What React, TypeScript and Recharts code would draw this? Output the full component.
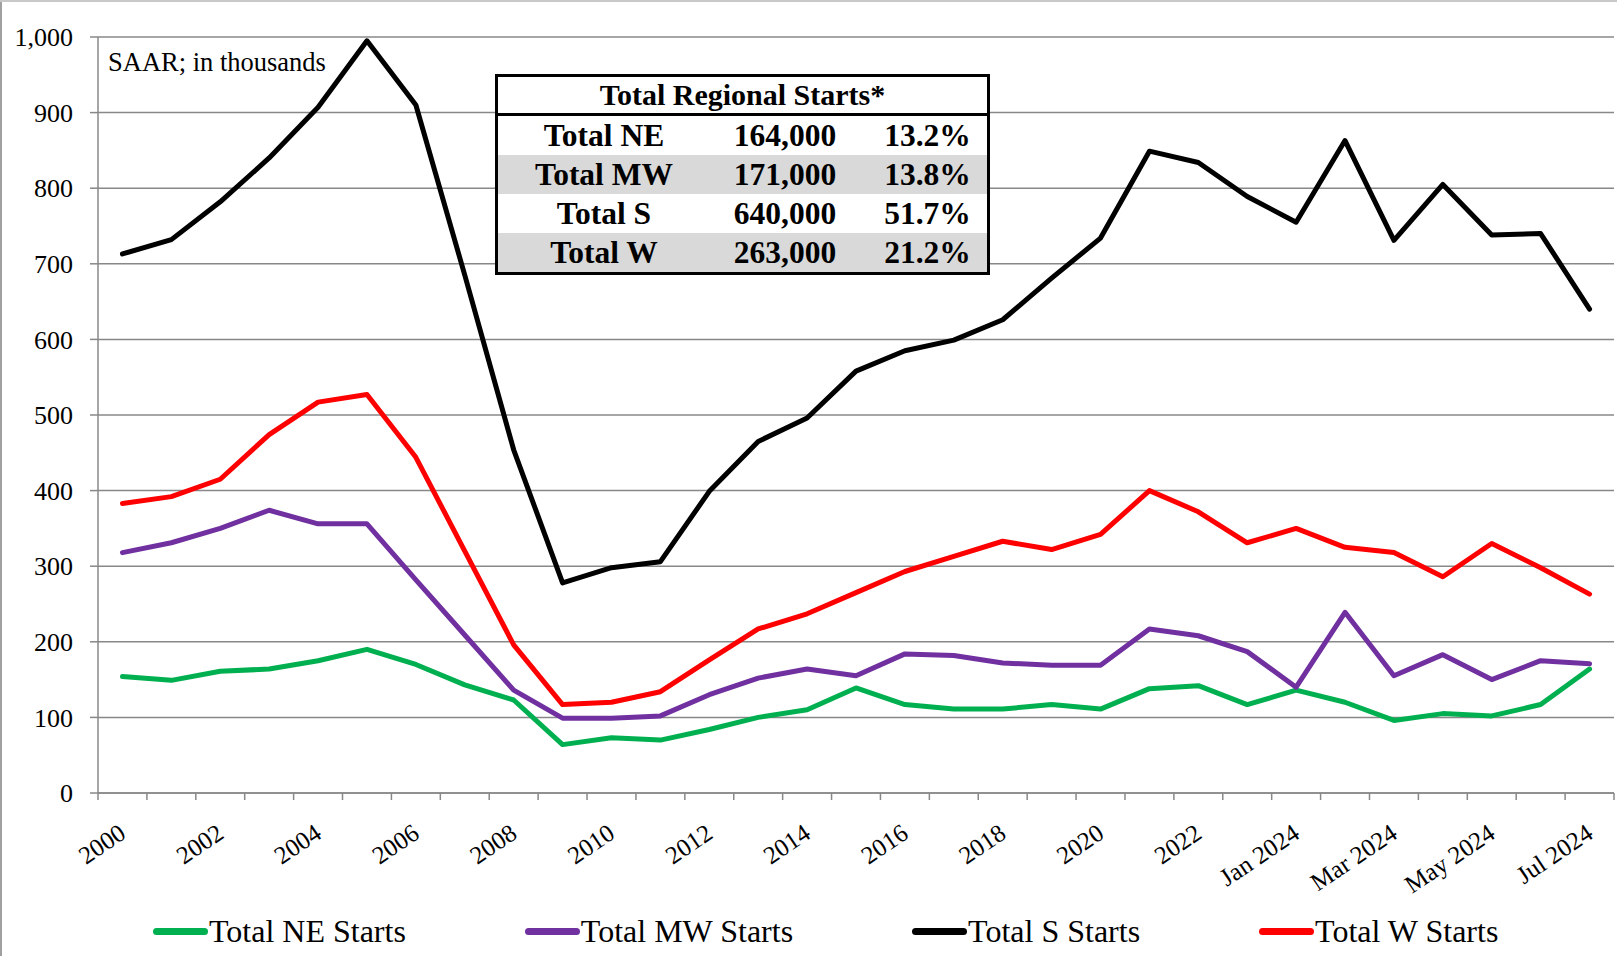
import React from 'react'
import { LineChart, Line, XAxis, YAxis, CartesianGrid, Legend } from 'recharts'

const categories = [
  '2000', '2001', '2002', '2003', '2004', '2005', '2006', '2007', '2008', '2009',
  '2010', '2011', '2012', '2013', '2014', '2015', '2016', '2017', '2018', '2019',
  '2020', '2021', '2022', '2023',
  'Jan 2024', 'Feb 2024', 'Mar 2024', 'Apr 2024', 'May 2024', 'Jun 2024', 'Jul 2024'
]

// SAAR, thousands
const neStarts = [
  154, 149, 161, 164, 175, 190, 170, 143, 123, 64,
  73, 70, 84, 100, 110, 139, 117, 111, 111, 117,
  111, 138, 142, 117,
  136, 120, 96, 105, 102, 117, 164
]
const mwStarts = [
  318, 331, 350, 374, 356, 356, 282, 209, 136, 99,
  99, 102, 130, 152, 164, 155, 184, 182, 172, 169,
  169, 217, 208, 187,
  140, 239, 155, 183, 150, 175, 171
]
const sStarts = [
  713, 732, 782, 840, 907, 995, 910, 685, 454, 278,
  298, 306, 399, 465, 496, 558, 585, 599, 626, 681,
  734, 849, 834, 789,
  755, 863, 731, 805, 738, 740, 640
]
const wStarts = [
  383, 392, 415, 474, 517, 527, 444, 320, 196, 117,
  120, 134, 176, 217, 237, 265, 293, 313, 333, 322,
  342, 400, 372, 331,
  350, 325, 318, 286, 330, 298, 263
]

const yTicks = [0, 100, 200, 300, 400, 500, 600, 700, 800, 900, 1000]

const tableRows = [
  { region: 'Total NE', starts: '164,000', share: '13.2%' },
  { region: 'Total MW', starts: '171,000', share: '13.8%' },
  { region: 'Total S', starts: '640,000', share: '51.7%' },
  { region: 'Total W', starts: '263,000', share: '21.2%' }
]

const SERIES = [
  { key: 'ne', name: 'Total NE Starts', color: '#00b050' },
  { key: 'mw', name: 'Total MW Starts', color: '#7030a0' },
  { key: 's', name: 'Total S Starts', color: '#000000' },
  { key: 'w', name: 'Total W Starts', color: '#ff0000' }
]

const data = categories.map((period, i) => ({
  period,
  ne: neStarts[i],
  mw: mwStarts[i],
  s: sStarts[i],
  w: wStarts[i]
}))

const SERIF = '"Liberation Serif", "Times New Roman", serif'
const AXIS_GRAY = '#888888'
const WIDTH = 1617
const HEIGHT = 956
const Y_AXIS_W = 98
const RIGHT_M = 3
const BAND = (WIDTH - Y_AXIS_W - RIGHT_M) / categories.length

const XTick = (props: any) => {
  const { x, y, index, payload } = props
  const half = BAND / 2
  const lx = x + 5
  const ly = y + 44
  return (
    <g>
      <line x1={x - half} x2={x - half} y1={y} y2={y + 7} stroke={AXIS_GRAY} strokeWidth={1.5} />
      {index === categories.length - 1 && (
        <line x1={x + half} x2={x + half} y1={y} y2={y + 7} stroke={AXIS_GRAY} strokeWidth={1.5} />
      )}
      {index % 2 === 0 && (
        <text
          x={lx}
          y={ly}
          textAnchor="end"
          transform={`rotate(-34 ${lx} ${ly})`}
          fontSize={25}
          fontFamily={SERIF}
          fill="#000"
        >
          {payload.value}
        </text>
      )}
    </g>
  )
}

const LegendContent = () => (
  <div
    style={{
      height: 50,
      display: 'flex',
      alignItems: 'center',
      paddingLeft: 153,
      gap: 119,
      fontFamily: SERIF,
      fontSize: 32,
      color: '#000'
    }}
  >
    {SERIES.map((s) => (
      <div key={s.key} style={{ display: 'flex', alignItems: 'center', whiteSpace: 'nowrap' }}>
        <span
          style={{
            display: 'inline-block',
            width: 55,
            height: 7,
            borderRadius: 4,
            background: s.color,
            marginRight: 1
          }}
        />
        <span>{s.name}</span>
      </div>
    ))}
  </div>
)

const cellBase: React.CSSProperties = {
  textAlign: 'center',
  padding: 0,
  height: 39,
  lineHeight: '39px'
}

const App = () => {
  return (
    <div
      style={{
        position: 'absolute',
        left: 0,
        top: 0,
        width: WIDTH,
        height: HEIGHT,
        background: '#fff',
        overflow: 'hidden'
      }}
    >
      <div style={{ position: 'absolute', left: 0, top: 0, width: 2, height: HEIGHT, background: '#a0a0a0' }} />
      <div style={{ position: 'absolute', left: 0, top: 0, width: WIDTH, height: 2, background: '#c8c8c8' }} />
      <LineChart
        width={WIDTH}
        height={HEIGHT}
        data={data}
        margin={{ top: 37, right: RIGHT_M, left: 0, bottom: 0 }}
      >
        <CartesianGrid vertical={false} stroke={AXIS_GRAY} strokeWidth={1.5} />
        <XAxis
          dataKey="period"
          interval={0}
          tickSize={0}
          tickMargin={0}
          height={113}
          tickLine={false}
          axisLine={{ stroke: AXIS_GRAY, strokeWidth: 1.5 }}
          padding={{ left: BAND / 2, right: BAND / 2 }}
          tick={<XTick />}
        />
        <YAxis
          width={Y_AXIS_W}
          domain={[0, 1000]}
          ticks={yTicks}
          interval={0}
          tickSize={8}
          tickMargin={17}
          tickFormatter={(v: number) => v.toLocaleString('en-US')}
          axisLine={{ stroke: AXIS_GRAY, strokeWidth: 1.5 }}
          tickLine={{ stroke: AXIS_GRAY, strokeWidth: 1.5 }}
          tick={{ fill: '#000', fontSize: 26, fontFamily: SERIF }}
        />
        <Legend verticalAlign="bottom" content={<LegendContent />} />
        {SERIES.map((s) => (
          <Line
            key={s.key}
            type="linear"
            dataKey={s.key}
            name={s.name}
            stroke={s.color}
            strokeWidth={5}
            strokeLinejoin="round"
            strokeLinecap="round"
            dot={false}
            activeDot={false}
            isAnimationActive={false}
          />
        ))}
      </LineChart>

      <div
        style={{
          position: 'absolute',
          left: 108,
          top: 49,
          fontFamily: SERIF,
          fontSize: 26.5,
          lineHeight: '26px',
          color: '#000',
          whiteSpace: 'nowrap'
        }}
      >
        SAAR; in thousands
      </div>

      <div
        style={{
          position: 'absolute',
          left: 495,
          top: 74,
          width: 495,
          height: 201,
          boxSizing: 'border-box',
          border: '3px solid #000',
          background: '#fff',
          fontFamily: SERIF,
          fontWeight: 'bold',
          fontSize: 31.5,
          color: '#000'
        }}
      >
        <table style={{ borderCollapse: 'collapse', width: '100%', tableLayout: 'fixed' }}>
          <colgroup>
            <col style={{ width: 212 }} />
            <col style={{ width: 150 }} />
            <col />
          </colgroup>
          <thead>
            <tr>
              <th
                colSpan={3}
                style={{
                  ...cellBase,
                  height: 36,
                  lineHeight: '36px',
                  fontSize: 30,
                  borderBottom: '3px solid #000'
                }}
              >
                Total Regional Starts*
              </th>
            </tr>
          </thead>
          <tbody>
            {tableRows.map((r, i) => (
              <tr key={r.region} style={{ background: i % 2 === 1 ? '#d9d9d9' : '#fff' }}>
                <td style={cellBase}>{r.region}</td>
                <td style={cellBase}>{r.starts}</td>
                <td style={{ ...cellBase, paddingLeft: 8 }}>{r.share}</td>
              </tr>
            ))}
          </tbody>
        </table>
      </div>
    </div>
  )
}

export default App
